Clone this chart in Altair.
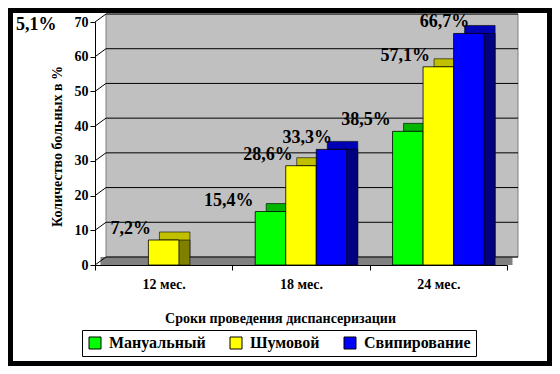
import altair as alt
import pandas as pd

categories = ["12 мес.", "18 мес.", "24 мес."]
series = ["Мануальный", "Шумовой", "Свипирование"]
manual = [None, 15.4, 38.5]
noise = [7.2, 28.6, 57.1]
sweep = [None, 33.3, 66.7]
stray_label = "5,1%"
y_ticks = [0, 10, 20, 30, 40, 50, 60, 70]

front_colors = ["#00ff00", "#ffff00", "#0000ff"]
top_colors = ["#00b400", "#c0c000", "#0000b4"]
side_colors = ["#008000", "#808000", "#000080"]

FONT = "Liberation Serif, Times New Roman, serif"
W, H = 412, 243
PAD = {"left": 87, "top": 14, "right": 45, "bottom": 101}
DX, DY = 11, 8
BAND = W / len(categories)

rows = []
for s, vals in zip(series, [manual, noise, sweep]):
    for c, v in zip(categories, vals):
        if v is not None:
            rows.append({"cat": c, "series": s, "value": v,
                         "label": f"{v:.1f}".replace(".", ",") + "%"})
df = pd.DataFrame(rows)
ydf = pd.DataFrame({"value": y_ticks})
one = pd.DataFrame({"a": [0]})

xscale = alt.Scale(domain=categories, paddingInner=0, paddingOuter=0)
oscale = alt.Scale(domain=series, paddingInner=0, paddingOuter=0.75, range=[0, BAND])
oscale_back = alt.Scale(domain=series, paddingInner=0, paddingOuter=0.75, range=[DX, BAND + DX])
yscale = alt.Scale(domain=[0, 70], nice=False)

X = alt.X("cat:N", scale=xscale, sort=categories,
          axis=alt.Axis(title="Сроки проведения диспансеризации", labelAngle=0,
                        tickBand="extent", titleX=185, titleY=46))
XO = alt.XOffset("series:N", scale=oscale, sort=series)
XOB = alt.XOffset("series:N", scale=oscale_back, sort=series)
YAX = alt.Axis(title="Количество больных в  %", values=y_ticks,
               titleX=-38, titleY=124, titleAngle=270,
               titleAlign="center", titleBaseline="middle")
Y = alt.Y("value:Q", scale=yscale, axis=YAX)

wall = alt.Chart(one).mark_rect(fill="#c0c0c0", stroke="#808080", strokeWidth=1).encode(
    x=alt.value(DX), x2=alt.value(W + DX), y=alt.value(-DY), y2=alt.value(H - DY))
floor = alt.Chart(one).mark_rect(fill="#808080").encode(
    x=alt.value(DX / 2), x2=alt.value(W + DX / 2), y=alt.value(H - DY), y2=alt.value(H))

grid = alt.Chart(ydf).mark_rule(color="black", strokeWidth=1, yOffset=-DY).encode(
    y=Y, x=alt.value(DX), x2=alt.value(W + DX))
diag = alt.Chart(ydf).mark_rule(color="black", strokeWidth=1, y2Offset=-DY).encode(
    y=Y, y2=alt.Y2("value"), x=alt.value(0), x2=alt.value(DX))

top = alt.Chart(df).mark_bar(yOffset=-DY, y2Offset=-DY,
                             stroke="black", strokeWidth=0.6).encode(
    x=X, xOffset=XOB, y=Y,
    color=alt.Color("series:N", scale=alt.Scale(domain=series, range=top_colors), legend=None))
side = alt.Chart(df).mark_bar(y2Offset=-DY, stroke="black", strokeWidth=0.6).encode(
    x=X, xOffset=XOB, y=Y,
    color=alt.Color("series:N", scale=alt.Scale(domain=series, range=side_colors), legend=None))
front = alt.Chart(df).mark_bar(stroke="black", strokeWidth=0.8).encode(
    x=X, xOffset=XO, y=Y,
    color=alt.Color("series:N", scale=alt.Scale(domain=series, range=front_colors),
                    legend=alt.Legend(title=None, labelFont=FONT, labelFontWeight="bold",
                                      labelFontSize=16)))

labels = alt.Chart(df).mark_text(font=FONT, fontWeight="bold", fontSize=18,
                                 color="black", dx=-33, dy=-11).encode(
    x=X, xOffset=XO, y=Y, text="label:N")

stray = alt.Chart(one).mark_text(font=FONT, fontWeight="bold", fontSize=18,
                                 color="black", align="left", baseline="middle").encode(
    x=alt.value(-79), y=alt.value(3), text=alt.value(stray_label))

border = alt.Chart(one).mark_rect(filled=False, stroke="black", strokeWidth=5).encode(
    x=alt.value(-PAD["left"] + 2.5), x2=alt.value(W + PAD["right"] - 2.5),
    y=alt.value(-PAD["top"] + 2.5), y2=alt.value(H + PAD["bottom"] - 2.5))

chart = alt.layer(wall, floor, grid, diag, top, side, front, labels, stray, border).resolve_scale(
    color="independent", xOffset="independent"
).properties(
    width=W, height=H, padding=PAD,
    autosize=alt.AutoSizeParams(type="none"),
    background="white",
).configure_view(stroke=None).configure_axis(
    labelFont=FONT, labelFontWeight="bold", labelFontSize=14, labelColor="black",
    titleFont=FONT, titleFontWeight="bold", titleFontSize=14, titleColor="black",
    domainColor="black", tickColor="black", tickSize=5, grid=False,
).configure_axisY(labelPadding=2).configure_axisX(labelPadding=7).configure_legend(
    orient="none", legendX=-13, legendY=308, direction="horizontal",
    strokeColor="black", strokeWidth=1, fillColor="white", padding=5,
    labelFont=FONT, labelFontWeight="bold", labelFontSize=16, labelColor="black",
    symbolType="square", symbolSize=144, symbolStrokeColor="black", symbolStrokeWidth=1,
    columnPadding=22, labelOffset=6,
)

chart.save("out.html", embed_options={"renderer": "svg", "actions": False})
